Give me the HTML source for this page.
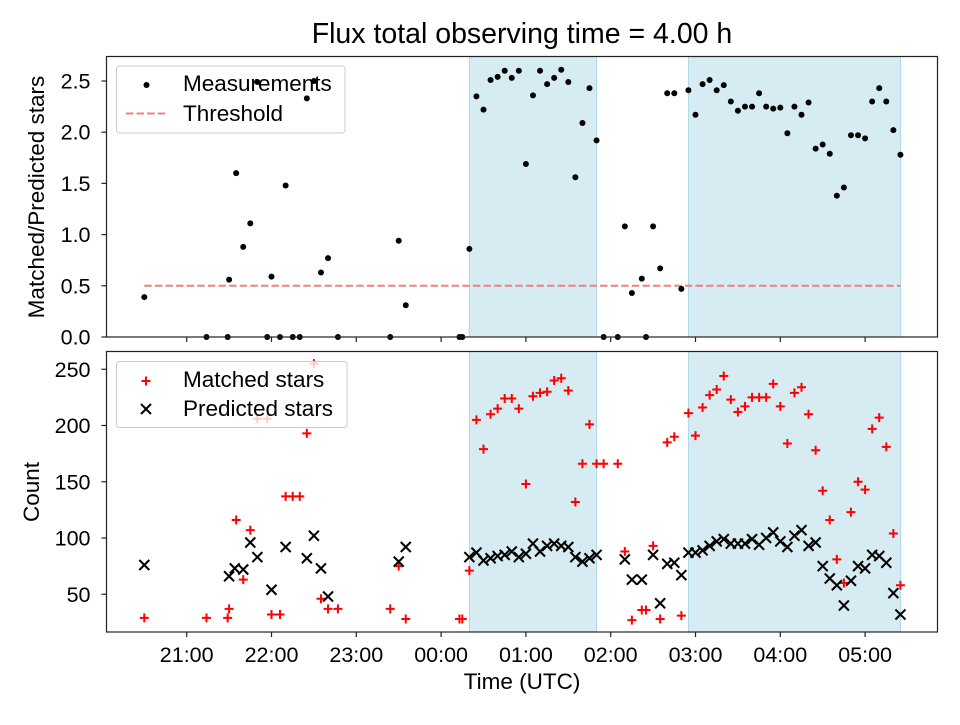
<!DOCTYPE html>
<html><head><meta charset="utf-8">
<style>
html,body{margin:0;padding:0;background:#fff;}
svg text{font-family:"Liberation Sans","DejaVu Sans",sans-serif;fill:#000;}
</style></head>
<body>
<svg id="chart" width="960" height="720" viewBox="0 0 960 720" xmlns="http://www.w3.org/2000/svg">
<text x="522" y="43" font-size="28.5" text-anchor="middle">Flux total observing time = 4.00 h</text>
<g id="top"></g>
<g id="bot"></g>
<text x="522" y="689" font-size="22.5" text-anchor="middle">Time (UTC)</text>
<text transform="translate(44,197) rotate(-90)" font-size="22.5" text-anchor="middle">Matched/Predicted stars</text>
<text transform="translate(39,492) rotate(-90)" font-size="22.5" text-anchor="middle">Count</text>
</svg>
<script>
// times: minutes after 21:00 UTC
const ratioTimes=[-30,14,29,30,35,40,45,50,57,60,66,70,75,80,85,90,95,100,107,144,150,155,193,195,200,205,210,215,220,225,230,235,240,245,250,255,260,265,270,275,280,285,290,295,305,310,315,322,325,330,335,340,345,350,355,360,365,370,375,380,385,390,395,400,405,410,415,420,425,430,435,440,445,450,455,460,465,470,475,480,485,490,495,500,505];
const ratioValues=[0.39,0,0,0.56,1.60,0.88,1.11,2.49,0,0.59,0,1.48,0,0,2.33,2.5,0.63,0.77,0,0,0.94,0.31,0,0,0.86,2.35,2.22,2.51,2.54,2.60,2.53,2.60,1.69,2.36,2.60,2.47,2.53,2.61,2.49,1.56,2.09,2.43,1.92,0,0,1.08,0.43,0.57,0,1.08,0.67,2.38,2.38,0.47,2.41,2.17,2.47,2.51,2.41,2.46,2.30,2.21,2.25,2.25,2.38,2.25,2.23,2.24,1.99,2.25,2.17,2.29,1.84,1.88,1.79,1.38,1.46,1.97,1.97,1.94,2.30,2.43,2.30,2.02,1.78];
const matchedTimes=[-30,14,29,30,35,40,45,50,57,60,66,70,75,80,85,90,95,100,107,144,150,155,193,195,200,205,210,215,220,225,230,235,240,245,250,255,260,265,270,275,280,285,290,295,305,310,315,322,325,330,335,340,345,350,355,360,365,370,375,380,385,390,395,400,405,410,415,420,425,430,435,440,445,450,455,460,465,470,475,480,485,490,495,500,505];
const matchedValues=[29,29,29,37,116,63,107,206,206,32,32,137,137,137,193,255,46,37,37,37,75,28,28,28,71,205,179,210,215,224,224,215,148,226,229,230,240,242,231,132,166,201,166,166,166,88,27,36,36,93,28,185,190,31,211,191,216,227,232,244,223,212,217,225,225,225,237,217,184,229,234,210,178,142,116,81,60,123,150,143,197,207,181,104,58];
const predTimes=[-30,30,34,40,45,50,60,70,85,90,95,100,150,155,200,205,210,215,220,225,230,235,240,245,250,255,260,265,270,275,280,285,290,310,315,322,330,335,340,345,350,355,360,365,370,375,380,385,390,395,400,405,410,415,420,425,430,435,440,445,450,455,460,465,470,475,480,485,490,495,500,505];
const predValues=[76,66,73,72,96,83,54,92,82,102,73,48,79,92,83,87,80,82,84,85,88,83,86,95,88,93,95,93,92,83,79,82,85,81,63,63,85,42,77,78,67,87,87,89,93,97,99,95,95,95,99,94,100,105,97,92,102,107,93,96,75,64,58,40,62,75,73,85,84,78,51,32];
const shadeStarts=[200,355];
const shadeEnds=[290,505];
const thresholdValue=0.5;
const thresholdStart=-30, thresholdEnd=505;
const topTicks=[0,0.5,1.0,1.5,2.0,2.5];
const botTicks=[50,100,150,200,250];
const xTickMinutes=[0,60,120,180,240,300,360,420,480];
const xTickLabels=["21:00","22:00","23:00","00:00","01:00","02:00","03:00","04:00","05:00"];

const NS="http://www.w3.org/2000/svg";
const L=106.5,R=937.5;
const FS=21.5, LFS=22.5;
const xs=m=>186.7+m/60*84.8;
const yTop=v=>337-v*102.4;
const yBot=v=>650.5-v*1.125;
function mk(parent,tag,attrs){const e=document.createElementNS(NS,tag);for(const k in attrs)e.setAttribute(k,attrs[k]);parent.appendChild(e);return e;}

function axesFrame(g,top,bottom,name){
  for(let i=0;i<shadeStarts.length;i++){
    const r=mk(g,'rect',{x:xs(shadeStarts[i]),y:top,width:xs(shadeEnds[i])-xs(shadeStarts[i]),height:bottom-top,fill:'#add8e6','fill-opacity':0.5,stroke:'#add8e6','stroke-width':1});
    
    
  }
}
function frame(g,top,bottom,name,ticks,yf,fmt,showLabels){
  const f=mk(g,'rect',{x:L,y:top,width:R-L,height:bottom-top,fill:'none',stroke:'#222','stroke-width':1.2});
  
  
  ticks.forEach(t=>{
    const y=yf(t);
    mk(g,'line',{x1:L-5,x2:L,y1:y,y2:y,stroke:'#222','stroke-width':1.2});
    const tx=mk(g,'text',{x:L-16,y:y+7.5,'font-size':FS,'text-anchor':'end'});tx.textContent=fmt(t);
    
    
  });
  xTickMinutes.forEach((m,i)=>{
    const x=xs(m);
    mk(g,'line',{x1:x,x2:x,y1:bottom,y2:bottom+5,stroke:'#222','stroke-width':1.2});
    if(showLabels){const tx=mk(g,'text',{x:x,y:662,'font-size':FS,'text-anchor':'middle'});tx.textContent=xTickLabels[i];
      
      }
  });
}
// TOP
const gt=document.getElementById('top');
axesFrame(gt,56.5,337,'top');
const th=mk(gt,'line',{x1:xs(thresholdStart),x2:xs(thresholdEnd),y1:yTop(thresholdValue),y2:yTop(thresholdValue),stroke:'#f08080','stroke-width':2,'stroke-dasharray':'7.4,3.2'});


const lg1=mk(gt,'g',{});


mk(lg1,'rect',{x:116.5,y:66,width:228.5,height:67,rx:3,fill:'rgba(255,255,255,0.8)',stroke:'#ccc'});
mk(lg1,'circle',{cx:146.5,cy:85,r:3,fill:'#000'});
let t1=mk(lg1,'text',{x:183,y:91,'font-size':LFS});t1.textContent='Measurements';
mk(lg1,'line',{x1:126,x2:167,y1:113.5,y2:113.5,stroke:'#f08080','stroke-width':2,'stroke-dasharray':'7.4,3.2'});
let t2=mk(lg1,'text',{x:183,y:121,'font-size':LFS});t2.textContent='Threshold';
ratioTimes.forEach((t,i)=>{
  const c=mk(gt,'circle',{cx:xs(t),cy:yTop(ratioValues[i]),r:3,fill:'#000'});
  
  
});
frame(gt,56.5,337,'top',topTicks,yTop,v=>v.toFixed(1),false);

// BOTTOM
const gb=document.getElementById('bot');
axesFrame(gb,351.5,632,'bottom');
matchedTimes.forEach((t,i)=>{
  const x=xs(t),y=yBot(matchedValues[i]);
  const p=mk(gb,'path',{d:`M${x-4.5},${y}H${x+4.5}M${x},${y-4.5}V${y+4.5}`,stroke:'#f00','stroke-width':2,fill:'none'});
  
  
});
predTimes.forEach((t,i)=>{
  const x=xs(t),y=yBot(predValues[i]);
  const p=mk(gb,'path',{d:`M${x-5},${y-5}L${x+5},${y+5}M${x-5},${y+5}L${x+5},${y-5}`,stroke:'#000','stroke-width':2,fill:'none'});
  
  
});
const lg2=mk(gb,'g',{});


mk(lg2,'rect',{x:116.5,y:361.5,width:230.5,height:66,rx:3,fill:'rgba(255,255,255,0.8)',stroke:'#ccc'});
mk(lg2,'path',{d:'M141.5,381H150.5M146,376.5V385.5',stroke:'#f00','stroke-width':2});
let t3=mk(lg2,'text',{x:183,y:387,'font-size':LFS});t3.textContent='Matched stars';
mk(lg2,'path',{d:'M141,404L151,414M141,414L151,404',stroke:'#000','stroke-width':2});
let t4=mk(lg2,'text',{x:183,y:416,'font-size':LFS});t4.textContent='Predicted stars';
frame(gb,351.5,632,'bottom',botTicks,yBot,v=>String(v),true);
</script>
</body></html>
